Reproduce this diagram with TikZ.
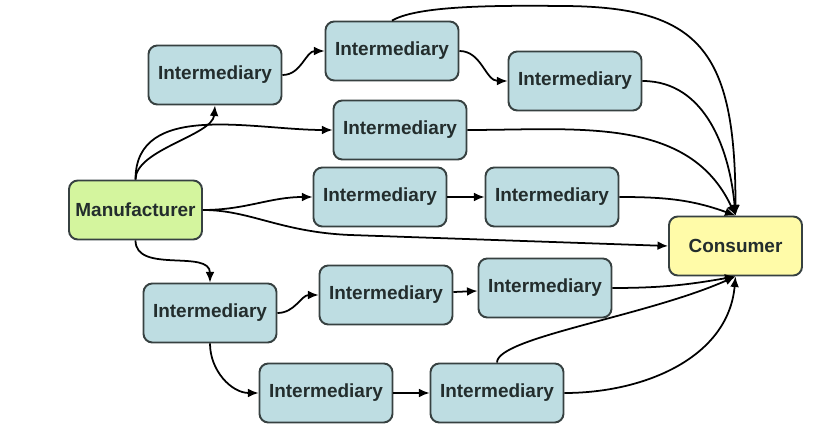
\documentclass[tikz,border=0pt]{standalone}
\usepackage{fontspec}
\setsansfont{Liberation Sans}
\usetikzlibrary{arrows.meta}
\definecolor{interblue}{RGB}{190,221,226}
\definecolor{mfrgreen}{RGB}{212,245,158}
\definecolor{consyellow}{RGB}{255,251,168}
\definecolor{boxline}{RGB}{55,65,65}
\definecolor{boxtext}{RGB}{35,45,45}

\begin{document}
\begin{tikzpicture}[
    box/.style={
      draw=boxline, rounded corners=5pt, minimum width=2.66cm,
      minimum height=1.18cm, align=center, line width=1.1pt,
      font=\sffamily\bfseries\fontsize{10.8}{13}\selectfont, text=boxtext
    },
    ibox/.style={box, fill=interblue},
    mbox/.style={box, fill=mfrgreen},
    cbox/.style={box, fill=consyellow},
    arr/.style={-{Latex[length=6pt,width=5pt]}, line width=1pt,
                color=black},
  ]
  \useasboundingbox (0,0) rectangle (16.36,-8.96);

  % --- end points ---
  \node[mbox] (mfr) at (2.71,-4.20) {Manufacturer};
  \node[cbox] (cons) at (14.71,-4.92) {Consumer};

  % --- upper chains ---
  \node[ibox] (i1) at (4.30,-1.50) {Intermediary};
  \node[ibox] (i2) at (7.84,-1.02) {Intermediary};
  \node[ibox] (i3) at (11.50,-1.62) {Intermediary};
  \node[ibox] (i4) at (8.00,-2.60) {Intermediary};
  \node[ibox] (i5) at (7.60,-3.94) {Intermediary};
  \node[ibox] (i6) at (11.04,-3.94) {Intermediary};

  % --- lower chains ---
  \node[ibox] (i7) at (4.20,-6.26) {Intermediary};
  \node[ibox] (i8) at (7.72,-5.90) {Intermediary};
  \node[ibox] (i9) at (10.90,-5.76) {Intermediary};
  \node[ibox] (i10) at (6.52,-7.86) {Intermediary};
  \node[ibox] (i11) at (9.94,-7.86) {Intermediary};

  % Straight links
  \foreach \a/\b in {i5/i6, i8/i9, i10/i11}
    \draw[arr] (\a) -- (\b);

  % Curved links from the manufacturer
  \draw[arr] (mfr.north) .. controls +(0,0.6) and +(-0.05,-0.6) .. (i1.south);
  \draw[arr] (mfr.north) to[out=90,in=180] (i4.west);
  \draw[arr] (mfr.east) to[out=0,in=180] (i5.west);
  \draw[arr] (mfr.east) .. controls (5.0,-4.2) and (5.6,-4.64) .. (7.0,-4.70)
    -- (cons.west);
  \draw[arr] (mfr.south) to[out=-90,in=90] (i7.north);

  % Links between intermediaries
  \draw[arr] (i1.east) to[out=0,in=180] (i2.west);
  \draw[arr] (i2.east) to[out=0,in=180] (i3.west);
  \draw[arr] (i7.east) to[out=0,in=180] (i8.west);
  \draw[arr] (i7.south) to[out=-90,in=180] (i10.west);

  % Links into the consumer, top
  \draw[arr] (i2.north) .. controls (8.3,-0.15) and (9.5,-0.10) .. (11.2,-0.12)
    .. controls (14.0,-0.12) and (14.71,-1.0) .. (cons.north);
  \draw[arr] (i3.east) to[out=0,in=95] (cons.north);
  \draw[arr] (i4.east) to[out=0,in=115] (cons.north);
  \draw[arr] (i6.east) to[out=0,in=160] (cons.north);

  % Links into the consumer, bottom
  \draw[arr] (i9.east) to[out=0,in=-170] (cons.south);
  \draw[arr] (i11.north) .. controls +(0,0.5) and +(-1.8,-0.8) .. (cons.south);
  \draw[arr] (i11.east) to[out=0,in=-95] (cons.south);

\end{tikzpicture}
\end{document}
